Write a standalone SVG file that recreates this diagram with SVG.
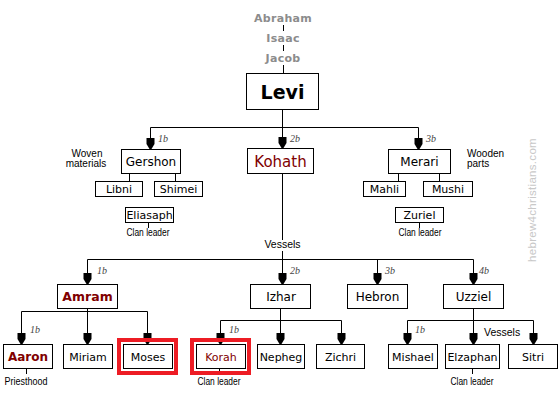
<svg xmlns="http://www.w3.org/2000/svg" width="560" height="403" viewBox="0 0 560 403">
<style>
.bg{fill:#fff}
.box{fill:#fff;stroke:#000;stroke-width:1}
.ln{fill:none;stroke:#000;stroke-width:1}
.t{font-family:"DejaVu Sans",Verdana,sans-serif;text-anchor:middle;fill:#000}
.s{font-size:11px}
.m{font-size:12px}
.red{fill:#800000}
.b{font-weight:bold}
.anc{font-family:"DejaVu Sans",Verdana,sans-serif;font-weight:bold;font-size:11px;fill:#8c8c8c;text-anchor:middle;letter-spacing:0.3px}
.note{font-family:"Liberation Sans",Arial,sans-serif;font-size:10.5px;fill:#000}
.sm{font-size:10px}
.num{font-family:"Liberation Serif","Times New Roman",serif;font-style:italic;font-size:10px;fill:#444}
.frame{fill:none;stroke:#ed1c24;stroke-width:4}
.wm{font-family:"Liberation Sans",Arial,sans-serif;font-size:11.5px;fill:#c8c8c8;letter-spacing:0.3px}
</style>
<defs>
<marker id="ah" viewBox="-12 -5 12 10" refX="0" refY="0" markerWidth="12" markerHeight="10" markerUnits="userSpaceOnUse" orient="auto">
<path d="M-11,-4 L-5,-4 L0,-1 L0,1 L-5,4 L-11,4 Z" fill="#000"/>
</marker>
</defs>
<rect class="bg" x="0" y="0" width="560" height="403"/>

<text class="wm" transform="translate(536,200) rotate(-90)" text-anchor="middle">hebrew4christians.com</text>

<g id="connectors">
<path class="ln" d="M283.5,25V31M283.5,45V51M283.5,65V73"/>
<path class="ln" d="M282.5,110V127.5M150.5,127.5H418.5"/>
<line class="ln" x1="150.5" y1="127.5" x2="150.5" y2="149" marker-end="url(#ah)"/>
<line class="ln" x1="282.5" y1="127.5" x2="282.5" y2="148" marker-end="url(#ah)"/>
<line class="ln" x1="418.5" y1="127.5" x2="418.5" y2="149" marker-end="url(#ah)"/>
<path class="ln" d="M129.5,173V181M175.5,173V181M398.5,173V181M439.5,173V181"/>
<path class="ln" d="M148.5,222V228M419.5,222V228"/>
<path class="ln" d="M282.5,173V240M282.5,251V259.5M87.5,259.5H473.5"/>
<line class="ln" x1="87.5" y1="259.5" x2="87.5" y2="284" marker-end="url(#ah)"/>
<line class="ln" x1="282.5" y1="259.5" x2="282.5" y2="284" marker-end="url(#ah)"/>
<line class="ln" x1="377.5" y1="259.5" x2="377.5" y2="284" marker-end="url(#ah)"/>
<line class="ln" x1="473.5" y1="259.5" x2="473.5" y2="284" marker-end="url(#ah)"/>
<path class="ln" d="M87.5,308V311.5M21.5,311.5H147.5"/>
<line class="ln" x1="21.5" y1="311.5" x2="21.5" y2="344" marker-end="url(#ah)"/>
<line class="ln" x1="87.5" y1="311.5" x2="87.5" y2="344" marker-end="url(#ah)"/>
<line class="ln" x1="147.5" y1="311.5" x2="147.5" y2="344" marker-end="url(#ah)"/>
<path class="ln" d="M280.5,308V320.5M220.5,320.5H341.5"/>
<line class="ln" x1="220.5" y1="320.5" x2="220.5" y2="344" marker-end="url(#ah)"/>
<line class="ln" x1="280.5" y1="320.5" x2="280.5" y2="344" marker-end="url(#ah)"/>
<line class="ln" x1="341.5" y1="320.5" x2="341.5" y2="344" marker-end="url(#ah)"/>
<path class="ln" d="M473.5,308V320.5M407.5,320.5H533.5"/>
<line class="ln" x1="407.5" y1="320.5" x2="407.5" y2="344" marker-end="url(#ah)"/>
<line class="ln" x1="473.5" y1="320.5" x2="473.5" y2="344" marker-end="url(#ah)"/>
<line class="ln" x1="533.5" y1="320.5" x2="533.5" y2="344" marker-end="url(#ah)"/>
<path class="ln" d="M26.5,368V374M219.5,368V374M472.5,368V374"/>
<text class="num" x="158" y="142">1b</text>
<text class="num" x="290" y="142">2b</text>
<text class="num" x="426" y="142">3b</text>
<text class="num" x="97" y="274">1b</text>
<text class="num" x="290" y="274">2b</text>
<text class="num" x="385" y="274">3b</text>
<text class="num" x="479" y="274">4b</text>
<text class="num" x="30" y="333">1b</text>
<text class="num" x="229" y="333">1b</text>
<text class="num" x="415" y="333">1b</text>
<text class="note" x="282.5" y="248" text-anchor="middle">Vessels</text>
<text class="note" x="484" y="336">Vessels</text>
</g>

<g id="abraham"><text class="anc" x="283" y="22">Abraham</text></g>
<g id="isaac"><text class="anc" x="283" y="42">Isaac</text></g>
<g id="jacob"><text class="anc" x="283" y="62">Jacob</text></g>

<g id="levi"><rect class="box" x="246.5" y="73.5" width="72" height="36"/><text class="t b" x="282.5" y="98.5" font-size="19">Levi</text></g>

<g id="gershon"><rect class="box" x="121.5" y="149.5" width="59" height="24"/><text class="t m" x="151" y="166">Gershon</text>
<text class="note sm" x="87" y="157" text-anchor="middle">Woven</text><text class="note sm" x="86" y="167" text-anchor="middle">materials</text></g>
<g id="kohath"><rect class="box" x="247.5" y="148.5" width="66" height="25"/><text class="t red" x="280.5" y="166.5" font-size="15">Kohath</text></g>
<g id="merari"><rect class="box" x="388.5" y="149.5" width="62" height="24"/><text class="t m" x="419.5" y="166">Merari</text>
<text class="note sm" x="467" y="157">Wooden</text><text class="note sm" x="467" y="167">parts</text></g>

<g id="libni"><rect class="box" x="95.5" y="181.5" width="47" height="15"/><text class="t s" x="119" y="193">Libni</text></g>
<g id="shimei"><rect class="box" x="154.5" y="181.5" width="48" height="15"/><text class="t s" x="178.5" y="193">Shimei</text></g>
<g id="mahli"><rect class="box" x="363.5" y="181.5" width="42" height="15"/><text class="t s" x="384.5" y="193">Mahli</text></g>
<g id="mushi"><rect class="box" x="423.5" y="181.5" width="49" height="15"/><text class="t s" x="448" y="193">Mushi</text></g>

<g id="eliasaph"><rect class="box" x="125.5" y="207.5" width="48" height="15"/><text class="t s" x="149.5" y="219">Eliasaph</text>
<text class="note" x="148" y="236" text-anchor="middle" textLength="43" lengthAdjust="spacingAndGlyphs">Clan leader</text></g>
<g id="zuriel"><rect class="box" x="395.5" y="207.5" width="48" height="15"/><text class="t s" x="419.5" y="219">Zuriel</text>
<text class="note" x="420" y="236" text-anchor="middle" textLength="43" lengthAdjust="spacingAndGlyphs">Clan leader</text></g>

<g id="amram"><rect class="box" x="57.5" y="284.5" width="60" height="24"/><text class="t b red" x="87.5" y="301" font-size="12.5">Amram</text></g>
<g id="izhar"><rect class="box" x="250.5" y="284.5" width="60" height="24"/><text class="t m" x="281" y="301">Izhar</text></g>
<g id="hebron"><rect class="box" x="347.5" y="284.5" width="60" height="24"/><text class="t m" x="377.5" y="301">Hebron</text></g>
<g id="uzziel"><rect class="box" x="443.5" y="284.5" width="60" height="24"/><text class="t m" x="473.5" y="301">Uzziel</text></g>

<g id="aaron"><rect class="box" x="3.5" y="344.5" width="49" height="24"/><text class="t b red" x="28" y="361" font-size="12">Aaron</text>
<text class="note" x="26" y="385" text-anchor="middle" textLength="43" lengthAdjust="spacingAndGlyphs">Priesthood</text></g>
<g id="miriam"><rect class="box" x="63.5" y="344.5" width="49" height="24"/><text class="t s" x="88" y="361">Miriam</text></g>
<g id="moses"><rect class="frame" x="119" y="340" width="57" height="33"/><rect class="box" x="123.5" y="344.5" width="49" height="24"/><text class="t s" x="148" y="361">Moses</text></g>
<g id="korah"><rect class="frame" x="192" y="340" width="57" height="33"/><rect class="box" x="196.5" y="344.5" width="49" height="24"/><text class="t s red" x="221" y="361">Korah</text>
<text class="note" x="219" y="385" text-anchor="middle" textLength="43" lengthAdjust="spacingAndGlyphs">Clan leader</text></g>
<g id="nepheg"><rect class="box" x="257.5" y="344.5" width="47" height="24"/><text class="t s" x="281" y="361">Nepheg</text></g>
<g id="zichri"><rect class="box" x="316.5" y="344.5" width="48" height="24"/><text class="t s" x="340.5" y="361">Zichri</text></g>
<g id="mishael"><rect class="box" x="388.5" y="344.5" width="49" height="24"/><text class="t s" x="413" y="361">Mishael</text></g>
<g id="elzaphan"><rect class="box" x="445.5" y="344.5" width="54" height="24"/><text class="t s" x="472.5" y="361">Elzaphan</text>
<text class="note" x="472" y="385" text-anchor="middle" textLength="43" lengthAdjust="spacingAndGlyphs">Clan leader</text></g>
<g id="sitri"><rect class="box" x="508.5" y="344.5" width="49" height="24"/><text class="t s" x="533" y="361">Sitri</text></g>
</svg>
